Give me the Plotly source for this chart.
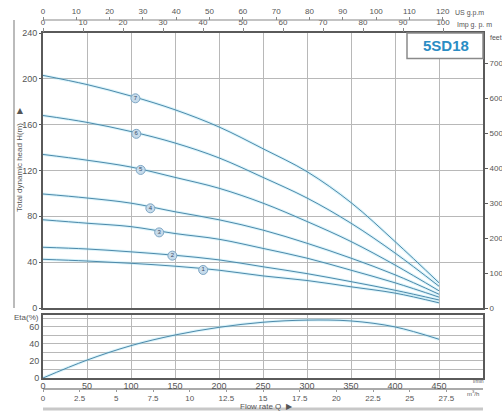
import plotly.graph_objects as go

# ---------------- data ----------------
flow_lmin = [0, 50, 100, 150, 200, 250, 300, 350, 400, 450]
head_curves = {
    "7": [203, 195, 185, 173, 158, 139, 119, 92, 58, 22],
    "6": [168, 162, 154, 144, 131, 114, 96, 74, 48, 19],
    "5": [134, 129, 123, 114, 104.5, 91.5, 75.5, 58, 37.5, 15],
    "4": [99.5, 96, 91.5, 84, 77, 68, 56.5, 43.5, 29, 12],
    "3": [77, 74, 71, 65, 60, 52, 43.5, 33, 22, 9.5],
    "2": [53, 51.5, 49, 46, 42, 36, 30, 23, 15.5, 7],
    "1": [42.5, 41, 39, 36.5, 33, 28, 24, 18.5, 13, 4.5],
}
label_ids = ["7", "6", "5", "4", "3", "2", "1"]
label_q = [105, 106, 111, 122, 132, 147, 182]
label_h = [183, 152, 120.5, 87, 66, 45.7, 33.2]

eta_q = [0, 50, 100, 150, 200, 250, 300, 350, 400, 450]
eta_pct = [0, 21, 38, 50.5, 59.5, 65.5, 68, 67, 60, 45.5]

lmin_ticks = [0, 50, 100, 150, 200, 250, 300, 350, 400, 450]
m3h_ticks = [0, 2.5, 5, 7.5, 10, 12.5, 15, 17.5, 20, 22.5, 25, 27.5]
usgpm_ticks = [0, 10, 20, 30, 40, 50, 60, 70, 80, 90, 100, 110, 120]
impgpm_ticks = [0, 10, 20, 30, 40, 50, 60, 70, 80, 90, 100]
head_ticks = [0, 40, 80, 120, 160, 200, 240]
feet_ticks = [0, 100, 200, 300, 400, 500, 600, 700]
eta_ticks = [0, 20, 40, 60]

Q_MAX = 500.0  # l/min
H_MAX = 240.0
ETA_MAX = 74.0

# ---------------- layout helpers ----------------
W, H = 502, 417
def fx(p): return p / W
def fy(p): return 1 - p / H

FONT = "Liberation Sans, Arial, sans-serif"
TXT = "#555555"
GRID = "#b8b8b8"
FRAME = "#5a5a5a"
CURVE = "#4d8aab"
GLOW = "rgba(150,220,240,0.35)"

fig = go.Figure()

for k in ["7", "6", "5", "4", "3", "2", "1"]:
    fig.add_trace(go.Scatter(x=flow_lmin, y=head_curves[k], mode="lines",
                             line=dict(color=GLOW, width=3, shape="spline"),
                             hoverinfo="skip", showlegend=False, xaxis="x", yaxis="y"))
    fig.add_trace(go.Scatter(x=flow_lmin, y=head_curves[k], mode="lines",
                             line=dict(color=CURVE, width=1.0, shape="spline"),
                             showlegend=False, xaxis="x", yaxis="y"))

fig.add_trace(go.Scatter(x=label_q, y=label_h, mode="markers+text", text=label_ids,
                         textposition="middle center",
                         textfont=dict(size=6, color="#3a4a66", family=FONT),
                         marker=dict(size=9, color="#c6dbeb", line=dict(color="#7ea6c4", width=1)),
                         showlegend=False, xaxis="x", yaxis="y"))

fig.add_trace(go.Scatter(x=eta_q, y=eta_pct, mode="lines",
                         line=dict(color=GLOW, width=3, shape="spline"),
                         hoverinfo="skip", showlegend=False, xaxis="x2", yaxis="y2"))
fig.add_trace(go.Scatter(x=eta_q, y=eta_pct, mode="lines",
                         line=dict(color=CURVE, width=1.0, shape="spline"),
                         showlegend=False, xaxis="x2", yaxis="y2"))

# empty (invisible) traces that bind the secondary unit axes so they are drawn
for ax, ticks in [("x3", usgpm_ticks), ("x4", impgpm_ticks), ("x5", m3h_ticks)]:
    fig.add_trace(go.Scatter(x=ticks, y=[None] * len(ticks), mode="lines",
                             showlegend=False, hoverinfo="skip", xaxis=ax, yaxis="y"))
fig.add_trace(go.Scatter(x=[None] * len(feet_ticks), y=feet_ticks, mode="lines",
                         showlegend=False, hoverinfo="skip", xaxis="x", yaxis="y3"))

xdom = [fx(43), fx(483)]
main_dom = [fy(308), fy(33)]
eta_dom = [fy(378), fy(315)]

axis_common = dict(showline=True, linecolor=FRAME, linewidth=2, mirror=True,
                   zeroline=False, automargin=False,
                   tickfont=dict(size=9, color=TXT, family=FONT))

fig.update_layout(
    width=W, height=H, margin=dict(l=0, r=0, t=0, b=0, autoexpand=False),
    paper_bgcolor="white", plot_bgcolor="white",
    font=dict(family=FONT, color=TXT),
    xaxis=dict(domain=xdom, range=[0, Q_MAX], anchor="y", showticklabels=False,
               showgrid=True, gridcolor=GRID, gridwidth=1, dtick=50, tick0=0, ticks="",
               **axis_common),
    yaxis=dict(domain=main_dom, range=[0, H_MAX], anchor="x", tickvals=head_ticks,
               showgrid=True, gridcolor=GRID, gridwidth=1, ticks="outside", ticklen=2,
               tickcolor=FRAME, **axis_common),
    yaxis3=dict(overlaying="y", side="right", anchor="x", range=[0, H_MAX * 3.28084],
                tickvals=feet_ticks, showgrid=False, ticks="outside", ticklen=4,
                tickcolor=FRAME, showline=False, zeroline=False, automargin=False,
                tickfont=dict(size=8, color=TXT, family=FONT)),
    xaxis2=dict(domain=xdom, range=[0, Q_MAX], anchor="y2", tickvals=lmin_ticks,
                showgrid=True, gridcolor=GRID, gridwidth=1, ticks="",
                ticklabelstandoff=-2, **axis_common),
    yaxis2=dict(domain=eta_dom, range=[0, ETA_MAX], anchor="x2", tickvals=eta_ticks,
                showgrid=True, gridcolor=GRID, gridwidth=1, ticks="",
                minor=dict(dtick=10, tick0=0, showgrid=True, gridcolor=GRID, gridwidth=1),
                **axis_common),
    xaxis3=dict(overlaying="x", anchor="free", position=fy(20), side="top",
                range=[0, Q_MAX / 3.78541], tickvals=usgpm_ticks, ticks="outside",
                ticklen=3, tickcolor="#888", showgrid=False, showline=False, zeroline=False,
                automargin=False, tickfont=dict(size=8, color=TXT, family=FONT)),
    xaxis4=dict(overlaying="x", anchor="y", side="top",
                range=[0, Q_MAX / 4.54609], tickvals=impgpm_ticks, ticks="outside",
                ticklen=4, tickcolor="#888", showgrid=False, showline=False, zeroline=False,
                automargin=False, tickfont=dict(size=8, color=TXT, family=FONT)),
    xaxis5=dict(overlaying="x", anchor="free", position=fy(389), side="bottom",
                range=[0, Q_MAX * 0.06], tickvals=m3h_ticks, ticks="outside",
                ticklen=2, tickcolor="#999", showgrid=False, showline=True,
                linecolor="#aaaaaa", linewidth=2, zeroline=False, automargin=False,
                ticklabelstandoff=-1,
                tickfont=dict(size=8, color=TXT, family=FONT)),
)

shapes = [
    dict(type="line", xref="paper", yref="paper", x0=fx(43), x1=fx(444), y0=fy(20), y1=fy(20),
         line=dict(color="#888888", width=1.2)),
    dict(type="line", xref="paper", yref="paper", x0=fx(14), x1=fx(14), y0=fy(20), y1=fy(308),
         line=dict(color="#bbbbbb", width=2)),
    dict(type="line", xref="paper", yref="paper", x0=fx(43), x1=fx(483), y0=fy(409), y1=fy(409),
         line=dict(color="#c8c8c8", width=3)),
    dict(type="rect", xref="paper", yref="paper", x0=fx(407), x1=fx(483), y0=fy(58.5), y1=fy(33),
         fillcolor="white", line=dict(color="#8a8a8a", width=1.5), layer="above"),
]
fig.update_layout(shapes=shapes)

ann = [
    dict(text="<b>5SD18</b>", x=fx(445.5), y=fy(46), font=dict(size=15, color="#2b8dc4")),
    dict(text="US g.p.m", x=fx(453), y=fy(13), xanchor="left", font=dict(size=7)),
    dict(text="Imp g. p. m", x=fx(455), y=fy(25), xanchor="left", font=dict(size=7)),
    dict(text="feet", x=fx(488), y=fy(37), xanchor="left", font=dict(size=7)),
    dict(text="Total dynamic head H(m)    \u25B6", x=fx(19), y=fy(160), textangle=-90,
         font=dict(size=8)),
    dict(text="Eta(%)", x=fx(26), y=fy(317), font=dict(size=8)),
    dict(text="l/min", x=fx(478), y=fy(381), font=dict(size=5)),
    dict(text="m<sup>3</sup>/h", x=fx(473), y=fy(393), font=dict(size=6)),
    dict(text="Flow rate Q  \u25B6", x=fx(266), y=fy(406), font=dict(size=8)),
]
for a in ann:
    a.setdefault("xref", "paper")
    a.setdefault("yref", "paper")
    a.setdefault("showarrow", False)
    a.setdefault("xanchor", "center")
    a.setdefault("yanchor", "middle")
    a["font"].setdefault("color", TXT)
    a["font"].setdefault("family", FONT)
fig.update_layout(annotations=ann)

fig.write_html("out.html", config={"displayModeBar": False},
               post_script="document.body.style.margin='0';document.body.style.overflow='hidden';")
